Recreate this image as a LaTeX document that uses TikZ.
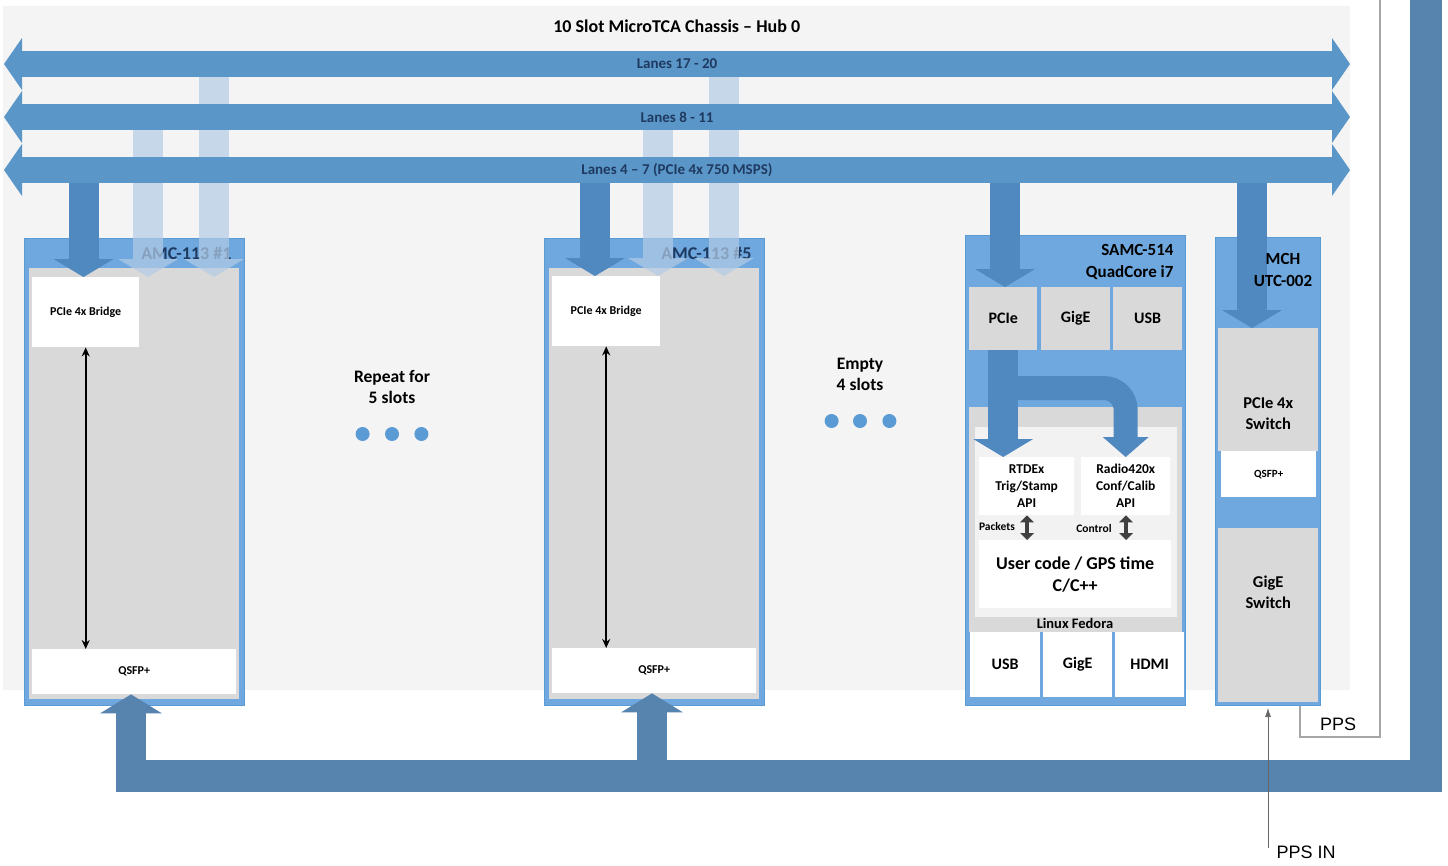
\documentclass[tikz,border=0pt]{standalone}
\usepackage{fontspec}
\setmainfont{Carlito}
\newfontfamily\arialfont{Liberation Sans}
\usetikzlibrary{arrows.meta, positioning}

\definecolor{busblue}{HTML}{5B96C9}
\definecolor{tapblue}{HTML}{5089C0}
\definecolor{paleblue}{HTML}{B3CCE6}
\definecolor{boxblue}{HTML}{6FA8DE}
\definecolor{boxedge}{HTML}{5B9BD5}
\definecolor{trunkblue}{HTML}{5783AF}
\definecolor{cellgray}{HTML}{D9D9D9}
\definecolor{chassisgray}{HTML}{F4F4F4}
\definecolor{panelgray}{HTML}{F2F2F2}
\definecolor{navytext}{HTML}{1F3A60}

\tikzset{
  frame/.style={anchor=north west, inner sep=0pt, fill=boxblue, draw=boxedge, line width=1pt},
  cell/.style={anchor=north west, inner sep=0pt, fill=cellgray, align=center,
    font=\bfseries\fontsize{16}{21}\selectfont},
  wcell/.style={cell, fill=white},
  small/.style={font=\bfseries\fontsize{12}{14}\selectfont},
  bus/.style={busblue, line width=26pt,
    {Triangle[length=18pt,width=52pt,line width=0pt]}-{Triangle[length=18pt,width=52pt,line width=0pt]}},
  tap/.style={tapblue, line width=30pt, -{Triangle[length=18pt,width=60pt,line width=0pt]}},
  ghost/.style={tap, paleblue, opacity=0.7},
  trunk/.style={trunkblue, line width=30pt, -{Triangle[length=19pt,width=62pt,line width=0pt]}},
  slotdot/.style={circle, fill=boxedge, minimum size=14pt, inner sep=0pt},
  lanetext/.style={text=navytext, font=\bfseries\fontsize{15}{17}\selectfont},
  bigtext/.style={align=center, font=\bfseries\fontsize{17.5}{21}\selectfont},
}

\begin{document}
\begin{tikzpicture}[x=1pt, y=-1pt]
  \useasboundingbox (0,0) rectangle (1448,865);

  % chassis
  \node[anchor=north west, fill=chassisgray, minimum width=1347pt, minimum height=684pt, inner sep=0pt] (chassis) at (3,6) {};
  \node[font=\bfseries\fontsize{18}{21}\selectfont, below=10pt of chassis.north] (title) {10 Slot MicroTCA Chassis -- Hub 0};

  % PPS loop and trunk
  \coordinate (trunkW) at (116,776);
  \coordinate (trunkC) at (1426,776);
  \coordinate (trunkN) at (1426,0);
  \draw[trunkblue, line width=32pt, line join=miter] (trunkW) -- (trunkC) -- (trunkN);

  % AMC-113 #1
  \node[frame, minimum width=220pt, minimum height=467pt] (amcA) at (24,238) {};
  \node[cell, minimum width=210pt, minimum height=431pt] (bodyA) at (29,268) {};
  \node[wcell, small, minimum width=107pt, minimum height=70pt] (bridgeA) at (32,277) {PCIe 4x Bridge};
  \node[wcell, small, minimum width=204pt, minimum height=45pt] (qsfpA) at (32,649) {QSFP+};
  \node[anchor=east, text=navytext, font=\bfseries\fontsize{18}{21}\selectfont] (nameA) at (235,253) {AMC-113 \#1};
  \draw[{Stealth[length=9pt,width=8pt]}-{Stealth[length=9pt,width=8pt]}, line width=1.6pt] (bridgeA.south) -- (bridgeA.south |- qsfpA.north);

  % AMC-113 #5
  \node[frame, minimum width=220pt, minimum height=467pt] (amcE) at (544,238) {};
  \node[cell, minimum width=210pt, minimum height=431pt] (bodyE) at (549,268) {};
  \node[wcell, small, minimum width=108pt, minimum height=70pt] (bridgeE) at (552,276) {PCIe 4x Bridge};
  \node[wcell, small, minimum width=204pt, minimum height=45pt] (qsfpE) at (552,648) {QSFP+};
  \node[anchor=east, text=navytext, font=\bfseries\fontsize{18}{21}\selectfont] (nameE) at (755,253) {AMC-113 \#5};
  \draw[{Stealth[length=9pt,width=8pt]}-{Stealth[length=9pt,width=8pt]}, line width=1.6pt] (bridgeE.south) -- (bridgeE.south |- qsfpE.north);

  % repeat / empty slots
  \node[slotdot] (rep2) at (392,434) {};
  \node[slotdot, left=15pt of rep2] (rep1) {};
  \node[slotdot, right=15pt of rep2] (rep3) {};
  \node[bigtext, above=20pt of rep2] (repText) {Repeat for\\5 slots};
  \node[slotdot] (emp2) at (860,421) {};
  \node[slotdot, left=14pt of emp2] (emp1) {};
  \node[slotdot, right=15pt of emp2] (emp3) {};
  \node[bigtext, above=20pt of emp2] (empText) {Empty\\4 slots};

  % SAMC-514
  \node[frame, minimum width=220pt, minimum height=470pt] (samc) at (965,235) {};
  \node[anchor=north east, align=right, font=\bfseries\fontsize{17}{22}\selectfont] (nameS) at (1177,241) {SAMC-514\\QuadCore i7};
  \node[cell, minimum width=68pt, minimum height=63pt] (pcieS) at (969,287) {PCIe};
  \node[cell, minimum width=69pt, minimum height=63pt] (gigeS) at (1041,287) {GigE};
  \node[cell, minimum width=69pt, minimum height=63pt] (usbS) at (1113,287) {USB};
  \node[cell, minimum width=213pt, minimum height=225pt] (linux) at (969,407) {};
  \node[cell, fill=panelgray, minimum width=202pt, minimum height=190pt] (apps) at (975,427) {};
  \node[wcell, font=\bfseries\fontsize{13.5}{17}\selectfont, minimum width=95pt, minimum height=58pt] (rtdexS) at (979,457) {RTDEx\\Trig/Stamp\\API};
  \node[wcell, font=\bfseries\fontsize{13.5}{17}\selectfont, minimum width=89pt, minimum height=58pt] (radioS) at (1081,457) {Radio420x\\Conf/Calib\\API};
  \node[wcell, font=\bfseries\fontsize{18}{22}\selectfont, minimum width=192pt, minimum height=68pt] (userS) at (979,540) {User code / GPS time\\C/C++};
  \node[font=\bfseries\fontsize{11.5}{13}\selectfont] (packets) at (997,526) {Packets};
  \node[font=\bfseries\fontsize{11.5}{13}\selectfont] (control) at (1094,528) {Control};
  \node[font=\bfseries\fontsize{14.5}{16}\selectfont] (fedora) at (1075,623) {Linux Fedora};
  \node[wcell, minimum width=70pt, minimum height=65pt] (usbB) at (970,632) {USB};
  \node[wcell, minimum width=69pt, minimum height=65pt] (gigeB) at (1043,632) {GigE};
  \node[wcell, minimum width=69pt, minimum height=65pt] (hdmiB) at (1115,632) {HDMI};
  \coordinate (pktX) at (1027,0);
  \coordinate (ctlX) at (1126,0);
  \draw[black!75, line width=4pt, {Triangle[length=7pt,width=14pt,line width=0pt]}-{Triangle[length=7pt,width=14pt,line width=0pt]}]
    (rtdexS.south -| pktX) -- (userS.north -| pktX);
  \draw[black!75, line width=4pt, {Triangle[length=7pt,width=14pt,line width=0pt]}-{Triangle[length=7pt,width=14pt,line width=0pt]}]
    (radioS.south -| ctlX) -- (userS.north -| ctlX);

  % MCH UTC-002
  \node[frame, minimum width=105pt, minimum height=468pt] (mch) at (1215,237) {};
  \node[cell, minimum width=100pt, minimum height=123pt] (pcieM) at (1218,328) {};
  \node[wcell, small, font=\bfseries\fontsize{11}{13}\selectfont, minimum width=95pt, minimum height=46pt] (qsfpM) at (1221,451) {QSFP+};
  \node[cell, minimum width=100pt, minimum height=174pt] (gigeM) at (1218,528) {};
  \node[bigtext, font=\bfseries\fontsize{16.5}{21}\selectfont, below=66pt of pcieM.north] (pcieMText) {PCIe 4x\\Switch};
  \node[bigtext, font=\bfseries\fontsize{16.5}{21}\selectfont, below=44pt of gigeM.north] (gigeMText) {GigE\\Switch};

  % PPS
  \coordinate (ppsIn) at (1268,848);
  \coordinate (ppsX) at (1300,0);
  \draw[black!60, line width=0.6pt, -{Latex[length=9pt,width=6pt]}] (ppsIn) -- ([yshift=-2pt]mch.south -| ppsIn);
  \node[anchor=west, font=\arialfont\fontsize{18}{20}\selectfont] (ppsInText) at (1273,852) {PPS IN};
  \draw[black!35, line width=1.2pt] (mch.south -| ppsX) -- (1300,737) -- (1380,737) -- (1380,0);
  \node[font=\arialfont\fontsize{18}{20}\selectfont] (ppsText) at (1338,724) {PPS};

  % taps from the lanes
  \coordinate (tapA) at (83.5,170);
  \coordinate (ghostA1) at (148,117);
  \coordinate (ghostA2) at (214,64);
  \coordinate (tapE) at (595,170);
  \coordinate (ghostE1) at (658,117);
  \coordinate (ghostE2) at (724,64);
  \coordinate (tapS) at (1005,170);
  \coordinate (tapM) at (1252,170);
  \draw[ghost] (ghostA1) -- (ghostA1 |- bridgeA.north);
  \draw[ghost] (ghostA2) -- (ghostA2 |- bridgeA.north);
  \draw[ghost] (ghostE1) -- (ghostE1 |- bridgeE.north);
  \draw[ghost] (ghostE2) -- (ghostE2 |- bridgeE.north);
  \draw[tap] (tapA) -- (tapA |- bridgeA.north);
  \draw[tap] (tapE) -- (tapE |- bridgeE.north);
  \draw[tap] (tapS) -- (tapS |- pcieS.north);
  \draw[tap] (tapM) -- (tapM |- pcieM.north);
  \node[font=\bfseries\fontsize{17}{22}\selectfont, align=center] (nameM) at (1283,270) {MCH\\UTC-002};

  % inside the SAMC
  \coordinate (bendS) at (1005,388);
  \draw[tap, line width=24pt, -{Triangle[length=20pt,width=46pt,line width=0pt]}, rounded corners=22pt]
    (bendS) -- (bendS -| radioS.north) -- (radioS.north);
  \draw[tap] (pcieS.south) -- (pcieS.south |- rtdexS.north);

  % trunk up to the QSFP+
  \coordinate (upA) at (131,792);
  \coordinate (upE) at (652,792);
  \draw[trunk] (upA) -- (upA |- qsfpA.south);
  \draw[trunk] (upE) -- (upE |- qsfpE.south);

  % lanes
  \coordinate (lane1W) at (4,64);   \coordinate (lane1E) at (1350,64);
  \coordinate (lane2W) at (4,117);  \coordinate (lane2E) at (1350,117);
  \coordinate (lane3W) at (4,170);  \coordinate (lane3E) at (1350,170);
  \draw[bus] (lane1W) -- node[lanetext] {Lanes 17 - 20} (lane1E);
  \draw[bus] (lane2W) -- node[lanetext] {Lanes 8 - 11} (lane2E);
  \draw[bus] (lane3W) -- node[lanetext] {Lanes 4 -- 7 (PCIe 4x 750 MSPS)} (lane3E);
\end{tikzpicture}
\end{document}
